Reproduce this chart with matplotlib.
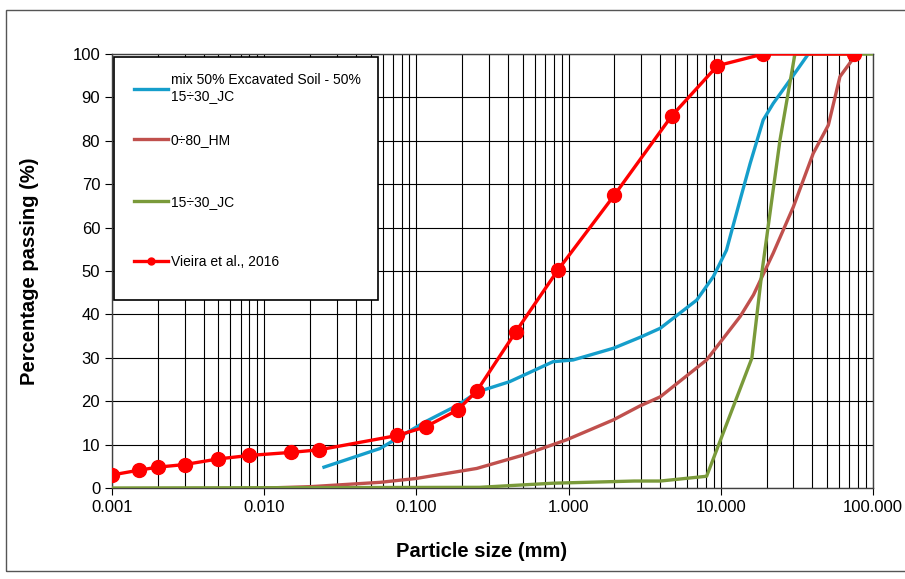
import matplotlib.pyplot as plt
import numpy as np
from matplotlib.ticker import LogLocator, NullFormatter
from matplotlib.patches import Rectangle
from matplotlib.legend import Legend

plt.rcParams['font.family'] = ['Liberation Sans', 'DejaVu Sans']

# Vieira et al., 2016 (points with markers)
vieira_x = [0.001, 0.0015, 0.002, 0.003, 0.005, 0.008, 0.015, 0.023, 0.075, 0.115,
            0.187, 0.25, 0.45, 0.85, 2.0, 4.75, 9.5, 19.0, 75.0]
vieira_y = [3.0, 4.1, 4.8, 5.4, 6.7, 7.5, 8.2, 8.8, 12.1, 14.1,
            18.0, 22.4, 36.0, 50.2, 67.5, 85.7, 97.3, 100.0, 100.0]

# mix 50% Excavated Soil - 50% 15÷30_JC
mix_x = [0.0247, 0.0577, 0.115, 0.187, 0.255, 0.41, 0.79, 1.07, 1.97, 2.94, 4.0,
         6.95, 8.93, 10.9, 13.4, 15.6, 19.0, 22.1, 28.5, 37.6]
mix_y = [4.8, 9.1, 15.3, 19.1, 22.2, 24.5, 29.1, 29.5, 32.2, 34.7, 36.8,
         43.3, 48.7, 54.8, 66.4, 74.8, 84.8, 88.6, 94.0, 100.0]

# 0÷80_HM
hm_x = [0.0104, 0.02, 0.0577, 0.1, 0.249, 0.505, 0.97, 1.97, 2.94, 4.0, 8.07,
        13.4, 16.4, 22.1, 30.0, 40.5, 50.9, 60.7, 74.3, 80.0]
hm_y = [0.0, 0.3, 1.3, 2.2, 4.5, 7.6, 11.1, 15.7, 18.9, 21.0, 29.5,
        39.5, 44.5, 54.1, 64.8, 77.1, 83.6, 94.8, 99.0, 100.0]

# 15÷30_JC
jc_x = [0.001, 0.26, 0.79, 2.7, 4.0, 8.07, 16.0, 18.6, 24.5, 30.7, 100.0]
jc_y = [0.0, 0.15, 1.1, 1.6, 1.6, 2.7, 29.9, 49.5, 80.2, 100.0, 100.0]

x_ticks = [0.001, 0.01, 0.1, 1, 10, 100]
x_tick_labels = ['0.001', '0.010', '0.100', '1.000', '10.000', '100.000']
y_ticks = list(range(0, 101, 10))

fig = plt.figure(figsize=(9.05, 5.79), dpi=100)
ax = fig.add_axes([0.1238, 0.1572, 0.8408, 0.7495])

l_mix, = ax.plot(mix_x, mix_y, color='#159ECB', lw=2.4, zorder=3)
l_hm, = ax.plot(hm_x, hm_y, color='#C0504D', lw=2.4, zorder=3)
l_jc, = ax.plot(jc_x, jc_y, color='#7A9A3A', lw=2.4, zorder=3)
l_vi, = ax.plot(vieira_x, vieira_y, color='#FF0000', lw=2.4, marker='o', markersize=10, zorder=4)

ax.set_xscale('log')
ax.set_xlim(0.001, 100)
ax.set_ylim(0, 100)
ax.set_xticks(x_ticks)
ax.set_xticklabels(x_tick_labels)
ax.xaxis.set_minor_locator(LogLocator(base=10, subs=np.arange(2, 10)))
ax.xaxis.set_minor_formatter(NullFormatter())
ax.set_yticks(y_ticks)

ax.grid(True, which='major', color='black', lw=0.8)
ax.grid(True, which='minor', axis='x', color='black', lw=0.8)
ax.tick_params(which='major', length=5, width=0.8, labelsize=12, direction='out')
ax.tick_params(which='minor', length=0)
for s in ax.spines.values():
    s.set_color('#404040')
    s.set_linewidth(1.0)

ax.set_xlabel('Particle size (mm)', fontsize=14.5, fontweight='bold')
ax.xaxis.set_label_coords(0.486, -0.125)
ax.set_ylabel('Percentage passing (%)', fontsize=14.5, fontweight='bold', labelpad=24)

# legend: framed box with entries spaced like the original
ax.add_patch(Rectangle((0.0026, 0.4332), 0.3469, 0.5599, transform=ax.transAxes,
                       facecolor='white', edgecolor='black', lw=1.2, zorder=5))
entries = [(l_mix, 'mix 50% Excavated Soil - 50%\n15÷30_JC', 0.9212),
           (l_hm, '0÷80_HM', 0.8018),
           (l_jc, '15÷30_JC', 0.6597),
           (l_vi, 'Vieira et al., 2016', 0.5214)]
for handle, label, ypos in entries:
    lg = Legend(ax, [handle], [label], loc='center left', bbox_to_anchor=(0.0289, ypos),
                fontsize=10, frameon=False, handlelength=2.45, handletextpad=0.2,
                borderpad=0, borderaxespad=0, markerscale=0.5)
    lg.set_zorder(6)
    ax.add_artist(lg)

fig.patches.append(Rectangle((0.007, 0.013), 1.0, 0.97, transform=fig.transFigure,
                             fill=False, edgecolor='#555555', lw=1.0))

fig.savefig('out.png', dpi=100)
